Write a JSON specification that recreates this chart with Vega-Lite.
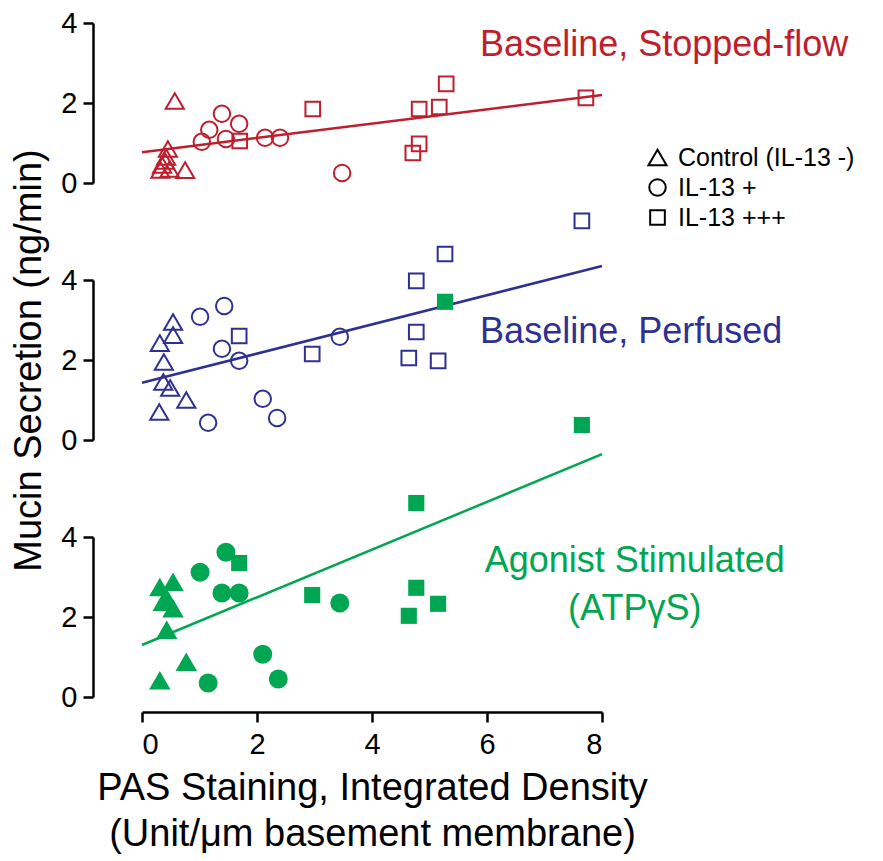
{
  "$schema": "https://vega.github.io/schema/vega-lite/v6.json",
  "padding": {"left": 10, "top": 9, "right": 5, "bottom": 3},
  "background": "white",
  "config": {
    "font": "Liberation Sans",
    "view": {"stroke": null},
    "axis": {"grid": false, "domainColor": "black", "tickColor": "black", "labelColor": "black", "titleColor": "black", "domainWidth": 2.5, "tickWidth": 2.5, "tickSize": 10, "labelFontSize": 29, "titleFontSize": 38, "titleFontWeight": "normal"}
  },
  "bounds": "flush",
  "spacing": 97,
  "resolve": {"scale": {"shape": "independent", "size": "independent"}},
  "datasets": {
    "pts": [
      {"panel": "Stopped", "group": "Control (IL-13 -)", "x": 0.45, "y": 0.85},
      {"panel": "Stopped", "group": "Control (IL-13 -)", "x": 0.42, "y": 0.65},
      {"panel": "Stopped", "group": "Control (IL-13 -)", "x": 0.40, "y": 0.55},
      {"panel": "Stopped", "group": "Control (IL-13 -)", "x": 0.35, "y": 0.45},
      {"panel": "Stopped", "group": "Control (IL-13 -)", "x": 0.32, "y": 0.33},
      {"panel": "Stopped", "group": "Control (IL-13 -)", "x": 0.48, "y": 0.35},
      {"panel": "Stopped", "group": "Control (IL-13 -)", "x": 0.75, "y": 0.32},
      {"panel": "Stopped", "group": "Control (IL-13 -)", "x": 0.57, "y": 2.05},
      {"panel": "Stopped", "group": "IL-13 +", "x": 1.04, "y": 1.03},
      {"panel": "Stopped", "group": "IL-13 +", "x": 1.17, "y": 1.33},
      {"panel": "Stopped", "group": "IL-13 +", "x": 1.39, "y": 1.73},
      {"panel": "Stopped", "group": "IL-13 +", "x": 1.46, "y": 1.1},
      {"panel": "Stopped", "group": "IL-13 +", "x": 1.69, "y": 1.48},
      {"panel": "Stopped", "group": "IL-13 +", "x": 2.14, "y": 1.13},
      {"panel": "Stopped", "group": "IL-13 +", "x": 2.4, "y": 1.13},
      {"panel": "Stopped", "group": "IL-13 +", "x": 3.48, "y": 0.25},
      {"panel": "Stopped", "group": "IL-13 +++", "x": 1.7, "y": 1.05},
      {"panel": "Stopped", "group": "IL-13 +++", "x": 2.97, "y": 1.85},
      {"panel": "Stopped", "group": "IL-13 +++", "x": 5.29, "y": 2.48},
      {"panel": "Stopped", "group": "IL-13 +++", "x": 4.82, "y": 1.85},
      {"panel": "Stopped", "group": "IL-13 +++", "x": 5.17, "y": 1.9},
      {"panel": "Stopped", "group": "IL-13 +++", "x": 7.72, "y": 2.13},
      {"panel": "Stopped", "group": "IL-13 +++", "x": 4.82, "y": 0.98},
      {"panel": "Stopped", "group": "IL-13 +++", "x": 4.71, "y": 0.75},
      {"panel": "Perfused", "group": "Control (IL-13 -)", "x": 0.54, "y": 2.95},
      {"panel": "Perfused", "group": "Control (IL-13 -)", "x": 0.54, "y": 2.62},
      {"panel": "Perfused", "group": "Control (IL-13 -)", "x": 0.31, "y": 2.42},
      {"panel": "Perfused", "group": "Control (IL-13 -)", "x": 0.38, "y": 1.95},
      {"panel": "Perfused", "group": "Control (IL-13 -)", "x": 0.37, "y": 1.45},
      {"panel": "Perfused", "group": "Control (IL-13 -)", "x": 0.49, "y": 1.3},
      {"panel": "Perfused", "group": "Control (IL-13 -)", "x": 0.77, "y": 1.0},
      {"panel": "Perfused", "group": "Control (IL-13 -)", "x": 0.30, "y": 0.7},
      {"panel": "Perfused", "group": "IL-13 +", "x": 1.01, "y": 3.08},
      {"panel": "Perfused", "group": "IL-13 +", "x": 1.43, "y": 3.35},
      {"panel": "Perfused", "group": "IL-13 +", "x": 1.39, "y": 2.28},
      {"panel": "Perfused", "group": "IL-13 +", "x": 1.69, "y": 1.98},
      {"panel": "Perfused", "group": "IL-13 +", "x": 2.1, "y": 1.03},
      {"panel": "Perfused", "group": "IL-13 +", "x": 2.35, "y": 0.55},
      {"panel": "Perfused", "group": "IL-13 +", "x": 1.15, "y": 0.43},
      {"panel": "Perfused", "group": "IL-13 +", "x": 3.44, "y": 2.58},
      {"panel": "Perfused", "group": "IL-13 +++", "x": 1.69, "y": 2.6},
      {"panel": "Perfused", "group": "IL-13 +++", "x": 2.96, "y": 2.15},
      {"panel": "Perfused", "group": "IL-13 +++", "x": 7.65, "y": 5.48},
      {"panel": "Perfused", "group": "IL-13 +++", "x": 5.27, "y": 4.65},
      {"panel": "Perfused", "group": "IL-13 +++", "x": 4.77, "y": 3.98},
      {"panel": "Perfused", "group": "IL-13 +++", "x": 4.77, "y": 2.7},
      {"panel": "Perfused", "group": "IL-13 +++", "x": 4.64, "y": 2.05},
      {"panel": "Perfused", "group": "IL-13 +++", "x": 5.15, "y": 1.98},
      {"panel": "Agonist", "group": "Control (IL-13 -)", "x": 0.31, "y": 2.75},
      {"panel": "Agonist", "group": "Control (IL-13 -)", "x": 0.54, "y": 2.88},
      {"panel": "Agonist", "group": "Control (IL-13 -)", "x": 0.37, "y": 2.38},
      {"panel": "Agonist", "group": "Control (IL-13 -)", "x": 0.42, "y": 2.5},
      {"panel": "Agonist", "group": "Control (IL-13 -)", "x": 0.54, "y": 2.22},
      {"panel": "Agonist", "group": "Control (IL-13 -)", "x": 0.43, "y": 1.68},
      {"panel": "Agonist", "group": "Control (IL-13 -)", "x": 0.77, "y": 0.88},
      {"panel": "Agonist", "group": "Control (IL-13 -)", "x": 0.31, "y": 0.42},
      {"panel": "Agonist", "group": "IL-13 +", "x": 1.01, "y": 3.12},
      {"panel": "Agonist", "group": "IL-13 +", "x": 1.46, "y": 3.62},
      {"panel": "Agonist", "group": "IL-13 +", "x": 1.39, "y": 2.6},
      {"panel": "Agonist", "group": "IL-13 +", "x": 1.69, "y": 2.6},
      {"panel": "Agonist", "group": "IL-13 +", "x": 2.1, "y": 1.07},
      {"panel": "Agonist", "group": "IL-13 +", "x": 2.37, "y": 0.45},
      {"panel": "Agonist", "group": "IL-13 +", "x": 1.15, "y": 0.35},
      {"panel": "Agonist", "group": "IL-13 +", "x": 3.44, "y": 2.35},
      {"panel": "Agonist", "group": "IL-13 +++", "x": 5.27, "y": 9.88},
      {"panel": "Agonist", "group": "IL-13 +++", "x": 7.65, "y": 6.8},
      {"panel": "Agonist", "group": "IL-13 +++", "x": 4.77, "y": 4.85},
      {"panel": "Agonist", "group": "IL-13 +++", "x": 4.77, "y": 2.73},
      {"panel": "Agonist", "group": "IL-13 +++", "x": 5.15, "y": 2.33},
      {"panel": "Agonist", "group": "IL-13 +++", "x": 4.64, "y": 2.03},
      {"panel": "Agonist", "group": "IL-13 +++", "x": 1.69, "y": 3.35},
      {"panel": "Agonist", "group": "IL-13 +++", "x": 2.96, "y": 2.55}
    ],
    "fits": [
      {"panel": "Stopped", "x": 0, "y": 0.77},
      {"panel": "Stopped", "x": 8, "y": 2.2},
      {"panel": "Perfused", "x": 0, "y": 1.43},
      {"panel": "Perfused", "x": 8, "y": 4.35},
      {"panel": "Agonist", "x": 0, "y": 1.3},
      {"panel": "Agonist", "x": 8, "y": 6.07}
    ],
    "labels": [
      {"panel": "Stopped", "x": 5.88, "y": 3.45, "text": "Baseline, Stopped-flow"},
      {"panel": "Perfused", "x": 5.88, "y": 2.7, "text": "Baseline, Perfused"},
      {"panel": "Agonist", "x": 8.57, "y": 3.4, "text": "Agonist Stimulated"},
      {"panel": "Agonist", "x": 8.57, "y": 2.2, "text": "(ATPγS)"}
    ]
  },
  "vconcat": [
    {
      "width": 460,
      "height": 160,
      "encoding": {
        "x": {"field": "x", "type": "quantitative", "scale": {"domain": [0, 8], "nice": false}, "axis": null},
        "y": {"field": "y", "type": "quantitative", "scale": {"domain": [0, 4], "nice": false}, "axis": {"values": [0, 2, 4], "offset": 49, "labelPadding": 6, "title": null}}
      },
      "layer": [
        {
          "data": {"name": "fits"},
          "transform": [{"filter": "datum.panel === 'Stopped'"}],
          "mark": {"type": "line", "color": "#BE1E2D", "strokeWidth": 2.5}
        },
        {
          "data": {"name": "pts"},
          "transform": [{"filter": "datum.panel === 'Stopped'"}],
          "mark": {"type": "point", "filled": false, "color": "#BE1E2D", "strokeWidth": 2, "opacity": 1},
          "encoding": {
            "shape": {"field": "group", "type": "nominal", "scale": {"domain": ["Control (IL-13 -)", "IL-13 +", "IL-13 +++"], "range": ["triangle-up", "circle", "square"]},
              "legend": {"orient": "none", "legendX": 503, "legendY": 122, "title": null, "labelFontSize": 25, "labelLimit": 400, "labelColor": "black", "symbolStrokeColor": "black", "symbolFillColor": "transparent", "symbolStrokeWidth": 2, "rowPadding": 4, "labelOffset": 8}},
            "size": {"field": "group", "type": "nominal", "scale": {"domain": ["Control (IL-13 -)", "IL-13 +", "IL-13 +++"], "range": [330, 215, 180]},
              "legend": {"orient": "none", "legendX": 503, "legendY": 122, "title": null, "labelFontSize": 25, "labelLimit": 400, "labelColor": "black", "symbolStrokeColor": "black", "symbolFillColor": "transparent", "symbolStrokeWidth": 2, "rowPadding": 4, "labelOffset": 8}}
          }
        },
        {
          "data": {"name": "labels"},
          "transform": [{"filter": "datum.panel === 'Stopped'"}],
          "mark": {"type": "text", "align": "left", "baseline": "middle", "fontSize": 36, "color": "#BE1E2D"},
          "encoding": {"text": {"field": "text"}}
        }
      ]
    },
    {
      "width": 460,
      "height": 160,
      "encoding": {
        "x": {"field": "x", "type": "quantitative", "scale": {"domain": [0, 8], "nice": false}, "axis": null},
        "y": {"field": "y", "type": "quantitative", "scale": {"domain": [0, 4], "nice": false}, "axis": {"values": [0, 2, 4], "offset": 49, "labelPadding": 6, "title": "Mucin Secretion (ng/min)", "titlePadding": 12}}
      },
      "layer": [
        {
          "data": {"name": "fits"},
          "transform": [{"filter": "datum.panel === 'Perfused'"}],
          "mark": {"type": "line", "color": "#2E3192", "strokeWidth": 2.5}
        },
        {
          "data": {"name": "pts"},
          "transform": [{"filter": "datum.panel === 'Perfused'"}],
          "mark": {"type": "point", "filled": false, "color": "#2E3192", "strokeWidth": 2, "opacity": 1},
          "encoding": {
            "shape": {"field": "group", "type": "nominal", "scale": {"domain": ["Control (IL-13 -)", "IL-13 +", "IL-13 +++"], "range": ["triangle-up", "circle", "square"]}, "legend": null},
            "size": {"field": "group", "type": "nominal", "scale": {"domain": ["Control (IL-13 -)", "IL-13 +", "IL-13 +++"], "range": [330, 215, 180]}, "legend": null}
          }
        },
        {
          "data": {"name": "labels"},
          "transform": [{"filter": "datum.panel === 'Perfused'"}],
          "mark": {"type": "text", "align": "left", "baseline": "middle", "fontSize": 36, "color": "#2E3192"},
          "encoding": {"text": {"field": "text"}}
        }
      ]
    },
    {
      "width": 460,
      "height": 160,
      "encoding": {
        "x": {"field": "x", "type": "quantitative", "scale": {"domain": [0, 8], "nice": false}, "axis": {"values": [0, 2, 4, 6, 8], "offset": 15, "labelPadding": 8, "title": ["PAS Staining, Integrated Density", "(Unit/μm basement membrane)"], "titlePadding": 10, "titleLineHeight": 46}},
        "y": {"field": "y", "type": "quantitative", "scale": {"domain": [0, 4], "nice": false}, "axis": {"values": [0, 2, 4], "offset": 49, "labelPadding": 6, "title": null}}
      },
      "layer": [
        {
          "data": {"name": "fits"},
          "transform": [{"filter": "datum.panel === 'Agonist'"}],
          "mark": {"type": "line", "color": "#00A651", "strokeWidth": 2.5}
        },
        {
          "data": {"name": "pts"},
          "transform": [{"filter": "datum.panel === 'Agonist'"}],
          "mark": {"type": "point", "filled": true, "color": "#00A651", "strokeWidth": 0, "opacity": 1},
          "encoding": {
            "shape": {"field": "group", "type": "nominal", "scale": {"domain": ["Control (IL-13 -)", "IL-13 +", "IL-13 +++"], "range": ["triangle-up", "circle", "square"]}, "legend": null},
            "size": {"field": "group", "type": "nominal", "scale": {"domain": ["Control (IL-13 -)", "IL-13 +", "IL-13 +++"], "range": [460, 260, 225]}, "legend": null}
          }
        },
        {
          "data": {"name": "labels"},
          "transform": [{"filter": "datum.panel === 'Agonist'"}],
          "mark": {"type": "text", "align": "center", "baseline": "middle", "fontSize": 36, "color": "#00A651"},
          "encoding": {"text": {"field": "text"}}
        }
      ]
    }
  ]
}
